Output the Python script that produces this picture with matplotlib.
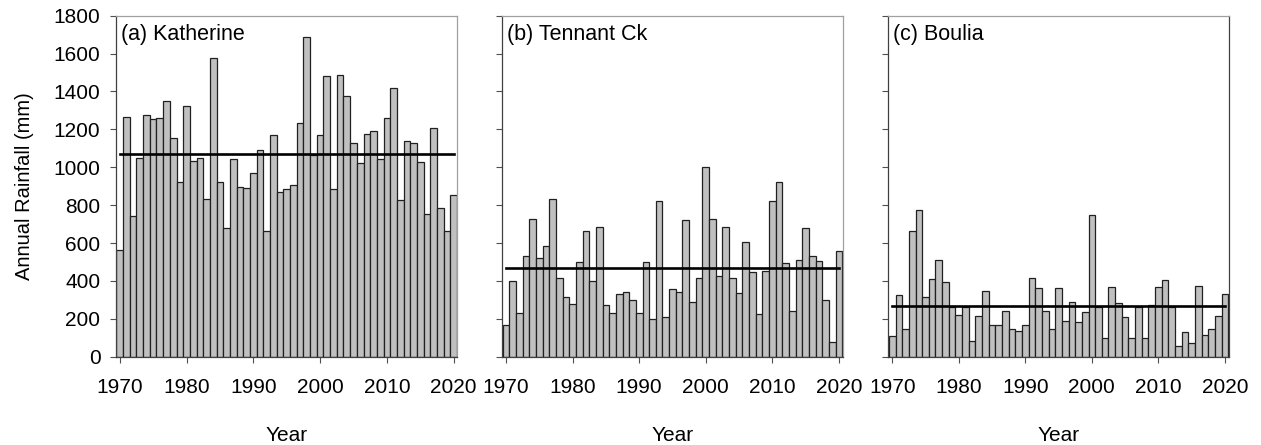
import matplotlib
matplotlib.use('Agg')
import matplotlib.pyplot as plt
import numpy as np

plt.rcParams['font.family'] = ['Liberation Sans', 'DejaVu Sans']

#Annual rainfall series (mm), 1970-2020
years = list(range(1970, 2021))

katherine = [561, 1265, 744, 1048, 1277, 1256, 1261, 1351, 1152, 921,
             1325, 1032, 1048, 833, 1577, 921, 679, 1041, 898, 891,
             968, 1092, 665, 1168, 870, 886, 907, 1235, 1685, 1064,
             1171, 1482, 886, 1489, 1374, 1129, 1023, 1175, 1189, 1041,
             1259, 1420, 829, 1138, 1129, 1030, 755, 1208, 787, 663,
             856]
tennant = [169, 402, 229, 529, 727, 520, 584, 834, 413, 316,
           279, 501, 663, 400, 686, 275, 233, 330, 342, 298,
           229, 501, 199, 824, 208, 356, 339, 721, 288, 418,
           1000, 729, 427, 684, 418, 335, 607, 448, 224, 453,
           822, 923, 496, 240, 512, 681, 533, 506, 298, 76,
           556]
boulia = [111, 325, 145, 663, 776, 314, 409, 510, 395, 261,
          219, 265, 83, 213, 349, 168, 168, 242, 145, 136,
          168, 415, 363, 242, 145, 362, 189, 288, 182, 235,
          750, 265, 99, 370, 282, 212, 99, 265, 99, 272,
          367, 407, 265, 56, 129, 74, 374, 116, 145, 213,
          332]

#Long-term mean lines
means = [1071, 466, 266]
titles = ['(a) Katherine', '(b) Tennant Ck', '(c) Boulia']
series = [katherine, tennant, boulia]

#Axes positions in figure fractions
lefts = [0.0918, 0.3981, 0.7044]
widths = [0.2709, 0.2701, 0.2699]
right_spine = ['#a0a0a0', '#a0a0a0', '#404040']

fig = plt.figure(figsize=(12.61, 4.45), dpi=100, facecolor='w')

for i in range(3):
  ax = fig.add_axes([lefts[i], 0.1984, widths[i], 0.7663])
  ax.bar(years, series[i], width=1.0, color='#c0c0c0', edgecolor='#202020', linewidth=0.9)
  ax.plot([years[0], years[-1]], [means[i], means[i]], color='black', linewidth=1.9)

  ax.set_xlim(1969.4, 2020.55)
  ax.set_ylim(0, 1800)
  ax.set_xticks(np.arange(1970, 2021, 10))
  ax.set_yticks(np.arange(0, 1801, 200))
  ax.tick_params(axis='both', direction='out', length=4, width=0.8, color='#505050',
                 labelsize=15)
  ax.tick_params(axis='x', pad=11)
  ax.tick_params(axis='y', pad=7)
  if i > 0:
    ax.tick_params(axis='y', labelleft=False)
  else:
    ax.set_ylabel('Annual Rainfall (mm)', fontsize=14.5, labelpad=14)

  ax.set_xlabel('Year', fontsize=15, labelpad=21)
  ax.text(0.015, 0.975, titles[i], transform=ax.transAxes, fontsize=15.5,
          ha='left', va='top')

  ax.spines['left'].set_color('#404040')
  ax.spines['bottom'].set_color('#404040')
  ax.spines['top'].set_color('#a0a0a0')
  ax.spines['right'].set_color(right_spine[i])
  for s in ax.spines.values():
    s.set_linewidth(0.9)

plt.savefig('out.png', dpi=100)
